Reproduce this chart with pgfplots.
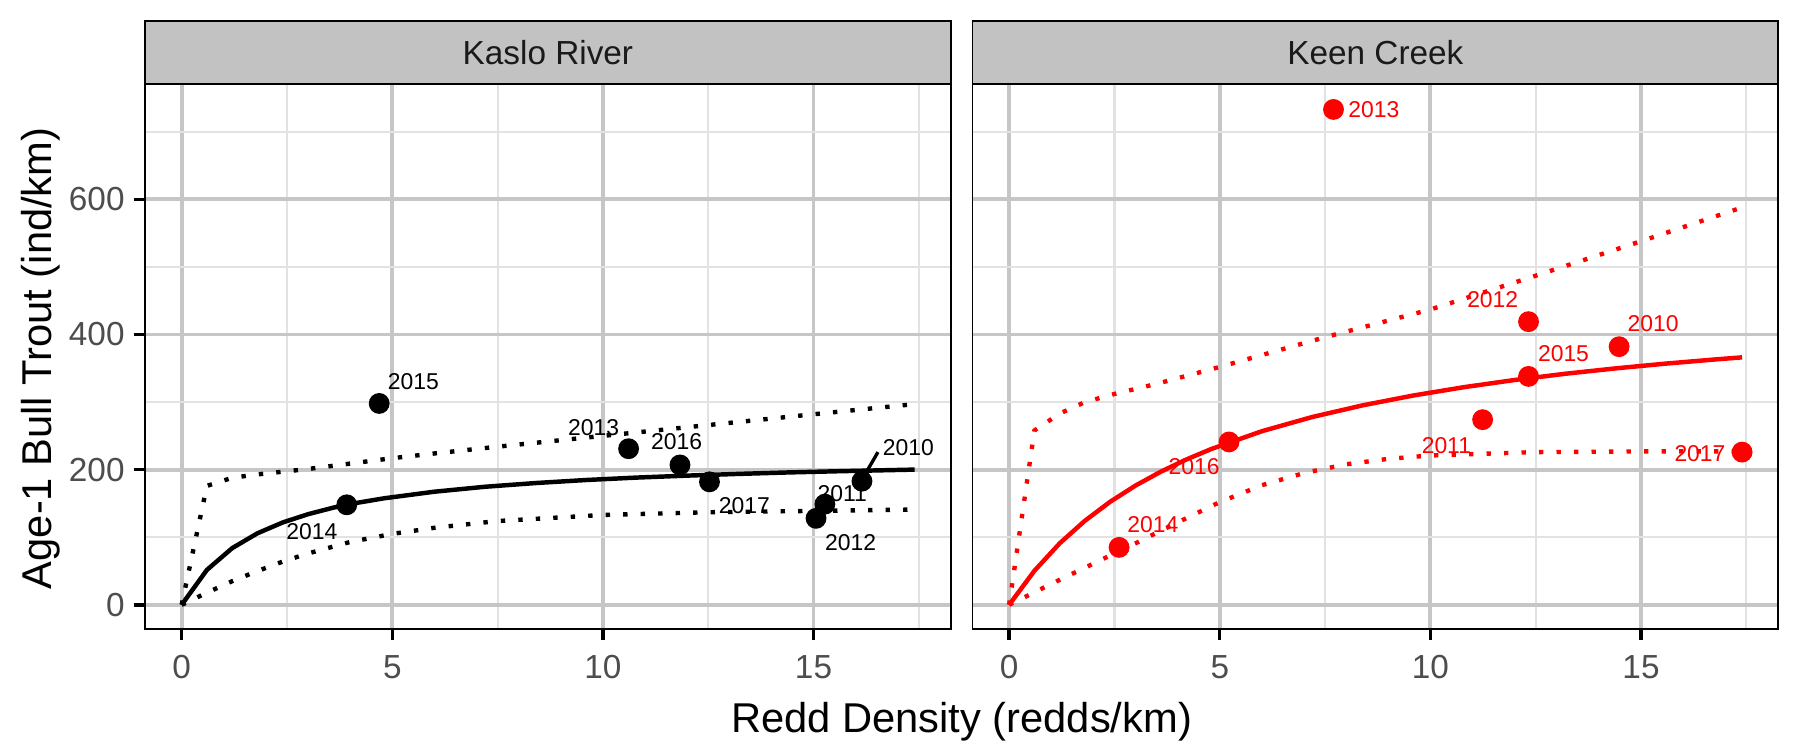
\documentclass[border=0pt]{standalone}
\usepackage{pgfplots}
\pgfplotsset{compat=1.18}
\usepackage{pgfplotstable}
\usepackage{fontspec}
\setmainfont{Liberation Sans}
\definecolor{gridmaj}{HTML}{C6C6C6}
\definecolor{gridmin}{HTML}{E2E2E2}
\definecolor{stripbg}{HTML}{C2C2C2}
\definecolor{ticklab}{HTML}{4D4D4D}
\definecolor{striptext}{HTML}{1A1A1A}
\definecolor{kred}{HTML}{FF0000}

% ---------------- Kaslo River ----------------
\pgfplotstableread{
x y
16.15 183
15.27 149
15.06 128
10.61 231
3.92 148
4.69 298
11.83 207
12.53 182
}\kasloPts
\pgfplotstableread{
x y
0 0
0.6 51.7
1.2 83.9
1.8 105.9
2.4 121.9
3.0 134.1
3.6 143.8
4.2 151.3
4.8 157.6
6.0 167.4
7.2 174.7
8.4 180.2
9.6 184.7
10.8 188.3
12.0 191.2
13.2 193.7
14.4 195.9
15.6 197.7
16.8 199.3
17.4 200.1
}\kasloMean
\pgfplotstableread{
x y
0 0
0.6 176
1.2 188
1.8 193
2.4 197
3.0 201
4.0 209
5.0 217
6.0 224
7.5 234
10.0 250
12.5 266
15.0 282
17.4 297
}\kasloUp
\pgfplotstableread{
x y
0 0
0.6 18
1.2 35
1.8 50
2.4 64
3.0 76
4.0 93
5.0 105
6.0 114
7.5 124
10.0 133
12.5 137
15.0 139
17.4 141
}\kasloLo

% ---------------- Keen Creek ----------------
\pgfplotstableread{
x y
14.48 382
11.24 274
12.33 419
7.70 733
2.61 85
12.33 338
5.22 241
17.40 226
}\keenPts
\pgfplotstableread{
x y
0 0
0.6 50.4
1.2 91.0
1.8 124.5
2.4 152.6
3.0 176.5
3.6 197.0
4.2 214.9
4.8 230.6
6.0 256.9
7.2 278.0
8.4 295.3
9.6 309.8
10.8 322.1
12.0 332.7
13.2 341.9
14.4 349.9
15.6 357.0
16.8 363.3
17.4 366.2
}\keenMean
\pgfplotstableread{
x y
0 0
0.6 258
1.2 283
1.8 300
2.5 312
3.5 327
5.0 352
7.5 396
10.0 437
12.5 487
15.0 538
17.4 588
}\keenUp
\pgfplotstableread{
x y
0 0
1 31
2 61
3 91
4 122
5 152
6 177
7 195
8 208
9 216
10 221
12.5 226
15 227
17.4 227
}\keenLo

\pgfplotsset{
  panel/.style={
    scale only axis, width=193.4pt, height=130.9pt,
    xmin=-0.87, xmax=18.26, ymin=-36, ymax=771,
    xtick={0,5,10,15}, ytick={0,200,400,600},
    minor xtick={2.5,7.5,12.5,17.5}, minor ytick={100,300,500,700},
    grid=both,
    major grid style={gridmaj, line width=0.95pt},
    minor grid style={gridmin, line width=0.5pt},
    axis line style={black, line width=0.45pt},
    tick align=outside, major tick length=2.7pt, minor tick length=0pt,
    xtick pos=left, ytick pos=left,
    every tick/.style={black, line width=0.8pt},
    tick label style={font=\fontsize{8}{9.6}\selectfont, text=ticklab},
    xticklabel style={inner sep=3.4pt},
    yticklabel style={inner sep=2pt},
    /pgf/number format/assume math mode=true,
  },
  meanline/.style={line width=1.07pt},
  ciline/.style={line width=1.05pt, dash pattern=on 1.05pt off 3.15pt},
}
\tikzset{yr/.style={font=\fontsize{5.5}{6.6}\selectfont, inner sep=0pt}}

\begin{document}
\begin{tikzpicture}
\path[use as bounding box] (-34.8pt,-29pt) rectangle (397.2pt,151pt);

\begin{axis}[panel, at={(0pt,0pt)}, anchor=south west,
  extra description/.code={
    \draw[fill=stripbg, draw=black, line width=0.45pt] (0,1) rectangle (1,1.1146);
    \node[font=\fontsize{8}{9.6}\selectfont, text=striptext, anchor=base] at (0.5,1.0355) {Kaslo River};
  }]
  \addplot[ciline, black] table {\kasloUp};
  \addplot[ciline, black] table {\kasloLo};
  \addplot[meanline, black] table {\kasloMean};
  \addplot[black, line width=0.8pt] coordinates {(16.25,196) (16.53,226)};
  \addplot[only marks, mark=*, mark size=2.3pt, mark options={fill=black, draw=black}] table {\kasloPts};
  \node[yr] at (axis cs:5.50,331) {2015};
  \node[yr] at (axis cs:9.78,262) {2013};
  \node[yr] at (axis cs:11.75,242) {2016};
  \node[yr] at (axis cs:13.36,147) {2017};
  \node[yr] at (axis cs:15.68,165) {2011};
  \node[yr] at (axis cs:15.88,92) {2012};
  \node[yr] at (axis cs:17.25,233) {2010};
  \node[yr] at (axis cs:3.09,109) {2014};
\end{axis}

\begin{axis}[panel, at={(198.6pt,0pt)}, anchor=south west,
  yticklabels={}, ytick style={draw=none},
  extra description/.code={
    \draw[fill=stripbg, draw=black, line width=0.45pt] (0,1) rectangle (1,1.1146);
    \node[font=\fontsize{8}{9.6}\selectfont, text=striptext, anchor=base] at (0.5,1.0355) {Keen Creek};
  }]
  \addplot[ciline, kred] table {\keenUp};
  \addplot[ciline, kred] table {\keenLo};
  \addplot[meanline, kred] table {\keenMean};
  \addplot[only marks, mark=*, mark size=2.3pt, mark options={fill=kred, draw=kred}] table {\keenPts};
  \node[yr, text=kred] at (axis cs:8.66,733) {2013};
  \node[yr, text=kred] at (axis cs:11.48,452) {2012};
  \node[yr, text=kred] at (axis cs:15.29,416) {2010};
  \node[yr, text=kred] at (axis cs:13.16,371) {2015};
  \node[yr, text=kred] at (axis cs:10.38,236) {2011};
  \node[yr, text=kred] at (axis cs:4.39,204) {2016};
  \node[yr, text=kred] at (axis cs:3.41,118) {2014};
  \node[yr, text=kred] at (axis cs:16.40,224) {2017};
\end{axis}

\node[font=\fontsize{10}{12}\selectfont, anchor=base] at (196.0pt,-24.7pt) {Redd Density (redds/km)};
\node[font=\fontsize{10}{12}\selectfont, rotate=90] at (-25.0pt,65.0pt) {Age-1 Bull Trout (ind/km)};
\end{tikzpicture}
\end{document}
